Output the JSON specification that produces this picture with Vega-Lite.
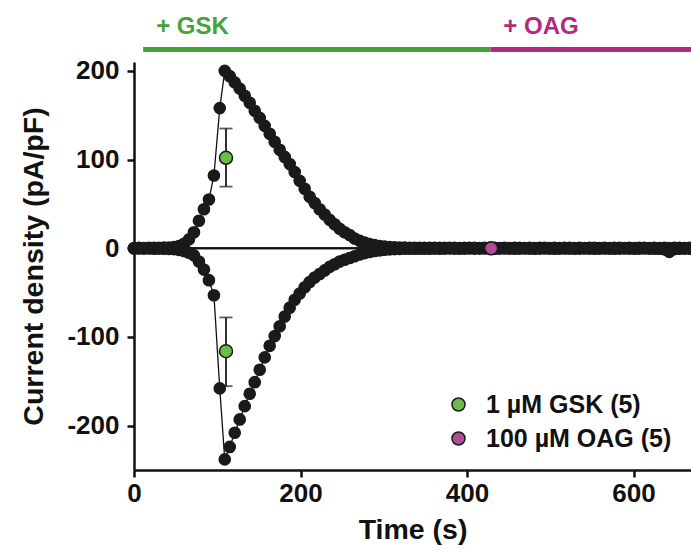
{
  "$schema": "https://vega.github.io/schema/vega-lite/v6.json",
  "width": 557,
  "height": 408,
  "autosize": {"type": "none"},
  "padding": {"top": 62, "left": 134, "right": 0, "bottom": 79},
  "background": "white",
  "config": {
    "view": {"stroke": null},
    "font": "Liberation Sans",
    "axis": {
      "grid": false,
      "domainColor": "#111111",
      "domainWidth": 2.5,
      "tickColor": "#111111",
      "tickWidth": 2.5,
      "tickSize": 7,
      "labelFont": "Liberation Sans",
      "labelFontSize": 26,
      "labelFontWeight": "bold",
      "labelColor": "#111111",
      "labelFlush": false,
      "labelExpr": "'' + datum.value",
      "titleFont": "Liberation Sans",
      "titleFontSize": 28.5,
      "titleFontWeight": "bold",
      "titleColor": "#111111"
    },
    "legend": {
      "labelFont": "Liberation Sans",
      "labelFontSize": 25,
      "labelFontWeight": "bold",
      "labelColor": "#111111",
      "labelLimit": 0
    }
  },
  "datasets": {
    "trace": [
      {"t": 0, "up": 0.3, "dn": -0.3},
      {"t": 6, "up": 0.4, "dn": -0.2},
      {"t": 12, "up": 0.3, "dn": -0.4},
      {"t": 18, "up": 0.5, "dn": -0.3},
      {"t": 24, "up": 0.4, "dn": -0.5},
      {"t": 30, "up": 0.6, "dn": -0.4},
      {"t": 36, "up": 0.7, "dn": -0.5},
      {"t": 42, "up": 0.9, "dn": -0.7},
      {"t": 48, "up": 1.4, "dn": -1.0},
      {"t": 54, "up": 2.5, "dn": -1.8},
      {"t": 60, "up": 5, "dn": -3},
      {"t": 66, "up": 10, "dn": -5},
      {"t": 72, "up": 18, "dn": -8},
      {"t": 78, "up": 31, "dn": -15},
      {"t": 84, "up": 44, "dn": -24},
      {"t": 90, "up": 55, "dn": -36},
      {"t": 96, "up": 82, "dn": -53},
      {"t": 103, "up": 158, "dn": -158},
      {"t": 109, "up": 200, "dn": -238},
      {"t": 115, "up": 194, "dn": -224},
      {"t": 121, "up": 187, "dn": -208},
      {"t": 127, "up": 180, "dn": -193},
      {"t": 133, "up": 172, "dn": -178},
      {"t": 139, "up": 164, "dn": -164},
      {"t": 145, "up": 155, "dn": -151},
      {"t": 151, "up": 147, "dn": -137},
      {"t": 157, "up": 138, "dn": -123},
      {"t": 163, "up": 129, "dn": -110},
      {"t": 169, "up": 120, "dn": -99},
      {"t": 175, "up": 111, "dn": -88},
      {"t": 181, "up": 103, "dn": -77},
      {"t": 187, "up": 95, "dn": -67},
      {"t": 193, "up": 86, "dn": -58},
      {"t": 199, "up": 76, "dn": -51},
      {"t": 205, "up": 67, "dn": -44},
      {"t": 211, "up": 58, "dn": -38},
      {"t": 217, "up": 51, "dn": -33},
      {"t": 223, "up": 44, "dn": -29},
      {"t": 229, "up": 38, "dn": -25},
      {"t": 235, "up": 32, "dn": -21},
      {"t": 241, "up": 27, "dn": -18},
      {"t": 247, "up": 22, "dn": -15},
      {"t": 253, "up": 18, "dn": -13},
      {"t": 259, "up": 15, "dn": -11},
      {"t": 265, "up": 11, "dn": -9},
      {"t": 271, "up": 8.5, "dn": -7},
      {"t": 277, "up": 6.5, "dn": -5.5},
      {"t": 283, "up": 4.8, "dn": -4.2},
      {"t": 289, "up": 3.5, "dn": -3.1},
      {"t": 295, "up": 2.5, "dn": -2.3},
      {"t": 301, "up": 1.8, "dn": -1.7},
      {"t": 307, "up": 1.3, "dn": -1.2},
      {"t": 313, "up": 1.0, "dn": -0.9},
      {"t": 319, "up": 0.8, "dn": -0.7},
      {"t": 325, "up": 0.7, "dn": -0.6},
      {"t": 331, "up": 0.6, "dn": -0.6},
      {"t": 337, "up": 0.6, "dn": -0.5},
      {"t": 343, "up": 0.5, "dn": -0.5},
      {"t": 349, "up": 0.5, "dn": -0.6},
      {"t": 355, "up": 0.6, "dn": -0.5},
      {"t": 361, "up": 0.4, "dn": -0.4},
      {"t": 367, "up": 0.5, "dn": -0.5},
      {"t": 373, "up": 0.4, "dn": -0.4},
      {"t": 379, "up": 0.5, "dn": -0.3},
      {"t": 385, "up": 0.4, "dn": -0.4},
      {"t": 391, "up": 0.3, "dn": -0.5},
      {"t": 397, "up": 0.4, "dn": -0.4},
      {"t": 403, "up": 0.5, "dn": -0.3},
      {"t": 409, "up": 0.4, "dn": -0.4},
      {"t": 415, "up": 0.3, "dn": -0.4},
      {"t": 421, "up": 0.4, "dn": -0.3},
      {"t": 427, "up": 0.5, "dn": -0.4},
      {"t": 433, "up": 0.4, "dn": -0.5},
      {"t": 439, "up": 0.3, "dn": -0.4},
      {"t": 445, "up": 0.4, "dn": -0.3},
      {"t": 451, "up": 0.3, "dn": -0.4},
      {"t": 457, "up": 0.4, "dn": -0.5},
      {"t": 463, "up": 0.5, "dn": -0.4},
      {"t": 469, "up": 0.3, "dn": -0.3},
      {"t": 475, "up": 0.4, "dn": -0.4},
      {"t": 481, "up": 0.3, "dn": -0.5},
      {"t": 487, "up": 0.4, "dn": -0.4},
      {"t": 493, "up": 0.5, "dn": -0.3},
      {"t": 499, "up": 0.3, "dn": -0.4},
      {"t": 505, "up": 0.4, "dn": -0.5},
      {"t": 511, "up": 0.3, "dn": -0.4},
      {"t": 517, "up": 0.4, "dn": -0.3},
      {"t": 523, "up": 0.5, "dn": -0.4},
      {"t": 529, "up": 0.3, "dn": -0.5},
      {"t": 535, "up": 0.4, "dn": -0.4},
      {"t": 541, "up": 0.3, "dn": -0.3},
      {"t": 547, "up": 0.4, "dn": -0.4},
      {"t": 553, "up": 0.5, "dn": -0.5},
      {"t": 559, "up": 0.3, "dn": -0.4},
      {"t": 565, "up": 0.4, "dn": -0.3},
      {"t": 571, "up": 0.3, "dn": -0.4},
      {"t": 577, "up": 0.4, "dn": -0.5},
      {"t": 583, "up": 0.5, "dn": -0.4},
      {"t": 589, "up": 0.3, "dn": -0.3},
      {"t": 595, "up": 0.4, "dn": -0.4},
      {"t": 601, "up": 0.3, "dn": -0.5},
      {"t": 607, "up": 0.4, "dn": -0.4},
      {"t": 613, "up": 0.5, "dn": -0.3},
      {"t": 619, "up": 0.3, "dn": -0.4},
      {"t": 625, "up": 0.4, "dn": -0.5},
      {"t": 631, "up": 0.3, "dn": -0.6},
      {"t": 637, "up": 0.4, "dn": -1.2},
      {"t": 643, "up": 0.3, "dn": -4.0},
      {"t": 649, "up": 0.4, "dn": -1.0},
      {"t": 655, "up": 0.5, "dn": -0.5},
      {"t": 661, "up": 0.3, "dn": -0.4},
      {"t": 667, "up": 0.4, "dn": -0.4}
    ],
    "means": [
      {"cond": "1 µM GSK (5)", "t": 110.5, "mean": 102, "lo": 69.5, "hi": 135},
      {"cond": "1 µM GSK (5)", "t": 110.5, "mean": -116, "lo": -155.5, "hi": -78},
      {"cond": "100 µM OAG (5)", "t": 429, "mean": 0}
    ],
    "drugs": [
      {"label": "+ GSK", "start": 11, "end": 428},
      {"label": "+ OAG", "start": 428, "end": 669}
    ]
  },
  "encoding": {
    "x": {"type": "quantitative", "scale": {"domain": [0, 669], "nice": false, "zero": false}},
    "y": {"type": "quantitative", "scale": {"domain": [-250, 210], "nice": false, "zero": false}}
  },
  "layer": [
    {
      "data": {"name": "drugs"},
      "mark": {"type": "rule", "strokeWidth": 2},
      "encoding": {
        "y": {"datum": 0, "type": "quantitative", "axis": {"values": [-200, -100, 0, 100, 200], "title": "Current density (pA/pF)", "labelPadding": 8, "titlePadding": 18}},
        "x": {"datum": 0, "type": "quantitative", "axis": {"values": [0, 200, 400, 600], "title": "Time (s)", "labelPadding": 3, "titlePadding": 9}},
        "x2": {"datum": 669},
        "color": {"value": "#111111"}
      }
    },
    {
      "data": {"name": "drugs"},
      "mark": {"type": "rule", "strokeWidth": 5, "strokeCap": "butt"},
      "encoding": {
        "x": {"field": "start", "type": "quantitative"},
        "x2": {"field": "end"},
        "y": {"datum": 224, "type": "quantitative"},
        "color": {"condition": {"test": "datum.label === '+ GSK'", "value": "#43a43b"}, "value": "#b12a7b"}
      }
    },
    {
      "data": {"name": "drugs"},
      "mark": {"type": "text", "align": "left", "baseline": "middle", "dx": 13, "fontSize": 24, "fontWeight": "bold", "font": "Liberation Sans"},
      "encoding": {
        "x": {"field": "start", "type": "quantitative"},
        "y": {"datum": 250, "type": "quantitative"},
        "text": {"field": "label"},
        "color": {"condition": {"test": "datum.label === '+ GSK'", "value": "#43a43b"}, "value": "#b12a7b"}
      }
    },
    {
      "data": {"name": "trace"},
      "transform": [{"fold": ["up", "dn"], "as": ["series", "v"]}],
      "mark": {"type": "line", "strokeWidth": 1.3, "color": "#111111"},
      "encoding": {
        "x": {"field": "t", "type": "quantitative"},
        "y": {"field": "v", "type": "quantitative"},
        "detail": {"field": "series"}
      }
    },
    {
      "data": {"name": "trace"},
      "transform": [{"fold": ["up", "dn"], "as": ["series", "v"]}],
      "mark": {"type": "circle", "size": 160, "opacity": 1, "color": "#1a1a1a"},
      "encoding": {
        "x": {"field": "t", "type": "quantitative"},
        "y": {"field": "v", "type": "quantitative"}
      }
    },
    {
      "data": {"name": "means"},
      "mark": {"type": "rule", "strokeWidth": 1.8, "color": "#1a1a1a"},
      "encoding": {
        "x": {"field": "t", "type": "quantitative"},
        "y": {"field": "lo", "type": "quantitative"},
        "y2": {"field": "hi"}
      }
    },
    {
      "data": {"name": "means"},
      "mark": {"type": "tick", "orient": "horizontal", "size": 13, "thickness": 1.8, "color": "#1a1a1a"},
      "encoding": {
        "x": {"field": "t", "type": "quantitative"},
        "y": {"field": "lo", "type": "quantitative"}
      }
    },
    {
      "data": {"name": "means"},
      "mark": {"type": "tick", "orient": "horizontal", "size": 13, "thickness": 1.8, "color": "#1a1a1a"},
      "encoding": {
        "x": {"field": "t", "type": "quantitative"},
        "y": {"field": "hi", "type": "quantitative"}
      }
    },
    {
      "data": {"name": "means"},
      "mark": {"type": "circle", "size": 170, "opacity": 1, "stroke": "#1a1a1a", "strokeWidth": 1.5},
      "encoding": {
        "x": {"field": "t", "type": "quantitative"},
        "y": {"field": "mean", "type": "quantitative"},
        "color": {
          "field": "cond",
          "type": "nominal",
          "scale": {"domain": ["1 µM GSK (5)", "100 µM OAG (5)"], "range": ["#6cbd47", "#b04a9b"]},
          "legend": {
            "title": null,
            "orient": "none",
            "legendX": 312,
            "legendY": 330,
            "padding": 0,
            "symbolType": "circle",
            "symbolSize": 170,
            "symbolStrokeColor": "#1a1a1a",
            "symbolStrokeWidth": 1.5,
            "labelOffset": 15,
            "labelLimit": 0,
            "rowPadding": 8
          }
        }
      }
    }
  ]
}
